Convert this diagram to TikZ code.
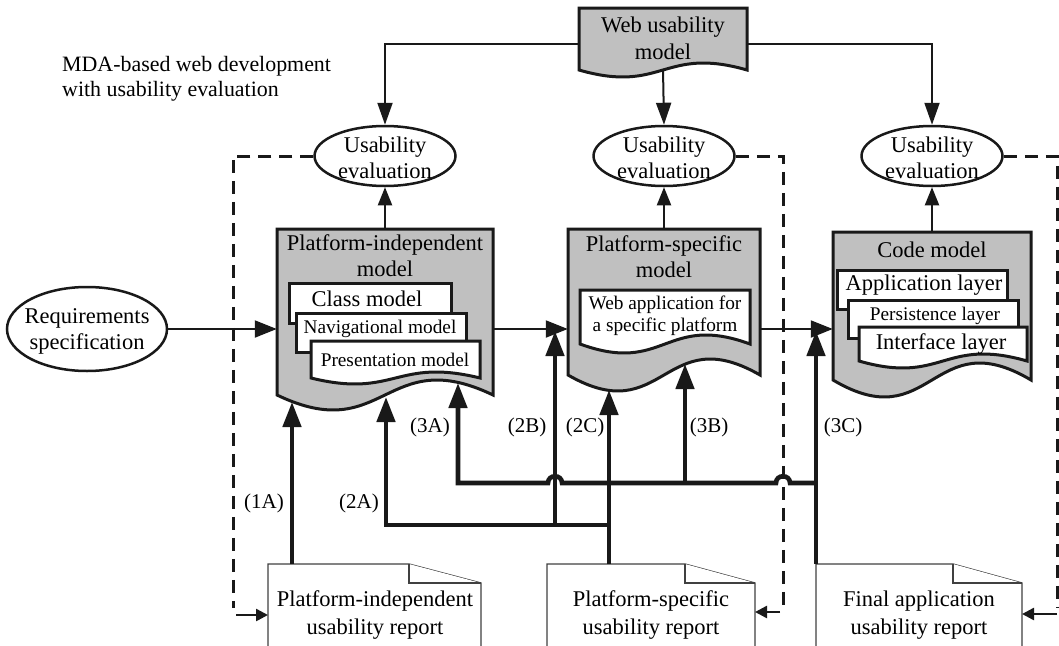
\documentclass[tikz,border=0pt]{standalone}
\usepackage{fontspec}
\setmainfont{Liberation Serif}
\usetikzlibrary{arrows.meta,shapes.geometric}
\definecolor{gfill}{RGB}{192,192,192}
\definecolor{ink}{RGB}{25,25,25}
\newcommand\DocShape[6]{\draw[#1] (#2,#3) -- (#4,#3) -- (#4,#5) .. controls ({(#2+#4)/2},{#5-3.46*#6}) and ({(#2+#4)/2},{#5+3.46*#6}) .. (#2,#5) -- cycle;}
\newcommand\RepShape[4]{\draw[rep] (#1,#2) -- (#4,#2) -- (#3,{#2+19}) -- (#3,660) -- (#1,660) -- cycle;
 \draw[rep] (#4,#2) -- (#4,{#2+19}) -- (#3,{#2+19});}
\tikzset{
 big/.style={font=\fontsize{22.5}{26}\selectfont},
 mid/.style={font=\fontsize{19.3}{22}\selectfont},
 lab/.style={font=\fontsize{21}{24}\selectfont, inner sep=0pt},
 bord/.style={line width=3pt, draw=ink, fill=gfill, line join=miter},
 inbox/.style={line width=3pt, draw=ink, fill=white},
 rep/.style={line width=1.3pt, draw=black!75, fill=white},
 thinline/.style={line width=2pt, draw=ink},
 thickline/.style={line width=4.6pt, draw=ink},
 dline/.style={line width=3pt, draw=ink, dash pattern=on 13pt off 8pt},
 tarrow/.style={-{Triangle[length=22pt,width=15pt]}},
 varrow/.style={-{Triangle[length=18pt,width=14pt]}},
 harrow/.style={-{Triangle[length=22pt,width=17pt]}},
 Tarrow/.style={-{Triangle[length=25pt,width=18pt]}},
 sarrow/.style={-{Triangle[length=12pt,width=12pt]}},
 evl/.style={ellipse, draw=ink, line width=2.5pt, fill=white, minimum width=141pt, minimum height=60pt, inner sep=0pt},
 boxname/.style={inner sep=0pt, draw=none}
}
\begin{document}
\begin{tikzpicture}[x=1pt,y=-1pt]
\useasboundingbox (0,0) rectangle (1059,645);
\clip (0,0) rectangle (1059,645);

% title
\node[anchor=west, align=left, inner sep=0pt, font=\fontsize{21.9}{25}\selectfont] (title) at (62,79) {MDA-based web development\\with usability evaluation};

% web usability model
\DocShape{bord}{579}{8}{747}{70}{7}
\node[big, align=center, font=\fontsize{22.5}{27}\selectfont] (wum) at (663,38) {Web usability\\model};
\coordinate (wumW) at (579,44);
\coordinate (wumE) at (747,44);
\coordinate (wumS) at (663,69);

% main boxes (named areas)
\node[boxname, minimum width=216pt, minimum height=166pt] (pim) at (385,312) {};
\node[boxname, minimum width=192pt, minimum height=146pt] (psm) at (664,302) {};
\node[boxname, minimum width=198pt, minimum height=148pt] (code) at (932,306) {};

\DocShape{bord}{277}{229}{493}{395}{15}
\DocShape{bord}{568}{229}{760}{375}{16}
\DocShape{bord}{833}{232}{1031}{380}{17}

\node[big, align=center] (pimT) at (385,256) {Platform-independent\\model};
\node[big, align=center] (psmT) at (664,257) {Platform-specific\\model};
\node[big] (codeT) at (932,250) {Code model};

% PIM inner
\draw[inbox] (289,283) rectangle (451,323);
\draw[inbox] (296,313) rectangle (466,352);
\DocShape{inbox}{311}{341}{480}{378}{6}
\node[big] (cls) at (367,299) {Class model};
\node[mid] (nav) at (380,329) {Navigational model};
\node[mid] (pres) at (395,360) {Presentation model};

% PSM inner
\DocShape{inbox}{580}{290}{750}{344}{9}
\node[mid, align=center] (wapp) at (665,316) {Web application for\\a specific platform};

% Code inner
\draw[inbox] (837,270) rectangle (1007,309);
\draw[inbox] (848,300) rectangle (1018,338);
\DocShape{inbox}{859}{327}{1027}{361}{7}
\node[big] (appl) at (924,285) {Application layer};
\node[mid] (pers) at (935,316) {Persistence layer};
\node[big] (intf) at (941,344) {Interface layer};

% reports
\RepShape{268}{564}{481}{409}
\RepShape{547}{564}{755}{685}
\RepShape{816}{564}{1022}{953}
\node[big, align=center, font=\fontsize{22.5}{28}\selectfont] (rep1) at (375,615) {Platform-independent\\usability report};
\node[big, align=center, font=\fontsize{22.5}{28}\selectfont] (rep2) at (651,615) {Platform-specific\\usability report};
\node[big, align=center, font=\fontsize{22.5}{28}\selectfont] (rep3) at (919,615) {Final application\\usability report};

% dashed feedback lines
\coordinate (d1) at (233,608);
\coordinate (d1b) at (236,615);
\coordinate (rep1in) at (268,615);
\coordinate (d2) at (783,606);
\coordinate (d2b) at (780,612);
\coordinate (rep2in) at (755,612);
\coordinate (d3) at (1057,608);
\coordinate (d3b) at (1057,614);
\coordinate (rep3in) at (1022,614);

% usability evaluation ellipses
\node[evl] (ue1) at (385,156) {};
\node[evl] (ue2) at (664,156) {};
\node[evl] (ue3) at (932,156) {};

\draw[dline] (ue1.west) -| (d1);
\draw[dline] (ue2.east) -| (d2);
\draw[dline] (ue3.east) -| (d3);
\draw[thinline, line width=2.5pt, sarrow] (d1b) -- (rep1in);
\draw[thinline, line width=2.5pt, sarrow] (d2b) -- (rep2in);
\draw[thinline, line width=2.5pt, sarrow] (d3b) -- (rep3in);

% top connectors
\draw[thinline, tarrow] (wumW) -| (ue1.north);
\draw[thinline, tarrow] (wumE) -| (ue3.north);
\draw[thinline, tarrow] (wumS) -- (ue2.north);

% boxes to evaluation
\draw[thinline, varrow] (pim.north) -- (ue1.south);
\draw[thinline, varrow] (psm.north) -- (ue2.south);
\draw[thinline, varrow] (code.north) -- (ue3.south);

\node[big, align=center] (ue1t) at (385,158) {Usability\\evaluation};
\node[big, align=center] (ue2t) at (664,158) {Usability\\evaluation};
\node[big, align=center] (ue3t) at (932,158) {Usability\\evaluation};

% requirements
\node[evl, minimum width=160pt, minimum height=84pt] (req) at (87,329) {};
\node[big, align=center] (reqt) at (87,331) {Requirements\\specification};

% transformations
\draw[thinline, harrow] (req.east) -- (req.east -| pim.west);
\draw[thinline, harrow] (req.east -| pim.east) -- (req.east -| psm.west);
\draw[thinline, harrow] (req.east -| psm.east) -- (req.east -| code.west);

% thick feedback connectors
\coordinate (r1out) at (292,564);
\coordinate (pim1A) at (292,402);
\coordinate (r2out) at (609,564);
\coordinate (psm2C) at (609,390);
\coordinate (j2) at (609,525);
\coordinate (pim2A) at (386,397);
\coordinate (j2B) at (555,525);
\coordinate (t2B) at (555,331);
\coordinate (r3out) at (816,564);
\coordinate (t3C) at (816,331);
\coordinate (j3) at (816,483);
\coordinate (pim3A) at (458,383);
\coordinate (j3B) at (685,483);
\coordinate (psm3B) at (685,364);

\draw[thickline, Tarrow] (r1out) -- (pim1A);
\draw[thickline, Tarrow] (r2out) -- (psm2C);
\draw[thickline, Tarrow] (j2) -| (pim2A);
\draw[thickline, Tarrow] (j2B) -- (t2B);
\draw[thickline, Tarrow] (r3out) -- (t3C);
\draw[thickline, Tarrow] (j3) -- (790,483) .. controls (790,474) and (776,474) .. (776,483)
  -- (562,483) .. controls (562,474) and (548,474) .. (548,483) -- (458,483) -- (pim3A);
\draw[thickline, Tarrow] (j3B) -- (psm3B);

% labels
\node[lab] (l1A) at (264,503) {(1A)};
\node[lab] (l2A) at (359,503) {(2A)};
\node[lab] (l3A) at (430,427) {(3A)};
\node[lab] (l2B) at (527,427) {(2B)};
\node[lab] (l2C) at (585,427) {(2C)};
\node[lab] (l3B) at (709,427) {(3B)};
\node[lab] (l3C) at (843,427) {(3C)};
\end{tikzpicture}
\end{document}
